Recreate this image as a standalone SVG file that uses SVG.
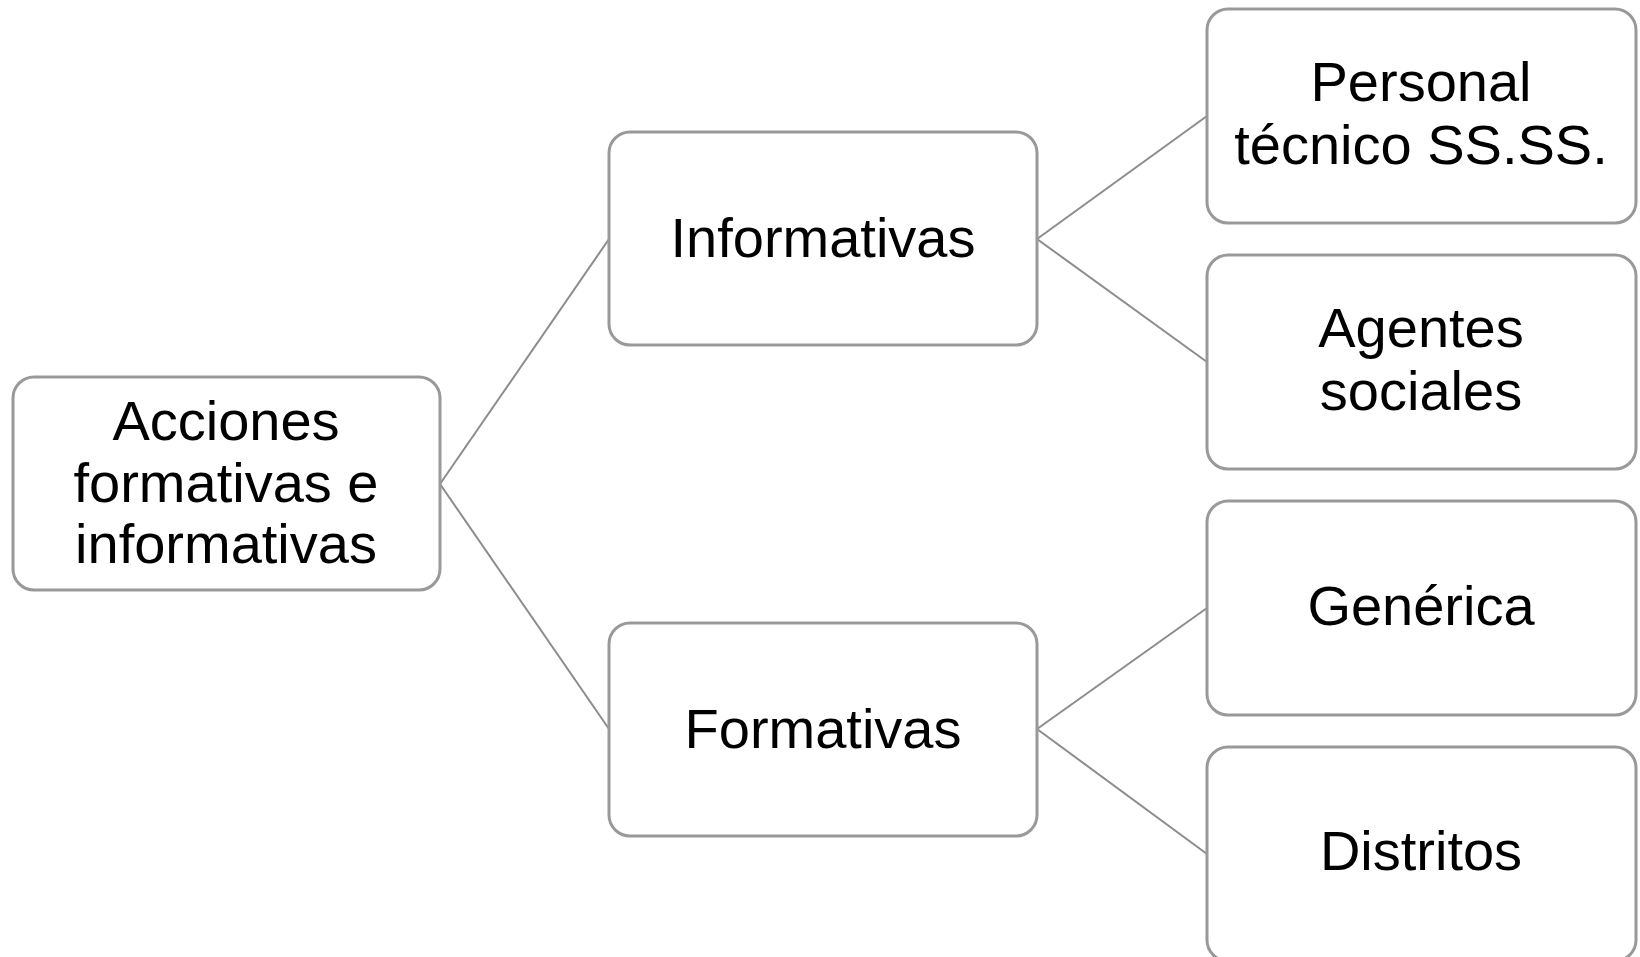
<svg xmlns="http://www.w3.org/2000/svg" width="1640" height="957" viewBox="0 0 1640 957">
<style>
.box{fill:#fff;stroke:#999;stroke-width:3}
.lbl{font-family:"Liberation Sans",Arial,sans-serif;font-size:56px;fill:#000;text-anchor:middle}
.con{stroke:#8c8c8c;stroke-width:2;fill:none}
</style>
<rect width="1640" height="957" fill="#fff"/>
<g id="connectors">
<line class="con" x1="440" y1="484" x2="609" y2="239"/>
<line class="con" x1="440" y1="484" x2="609" y2="729"/>
<line class="con" x1="1037" y1="239" x2="1207" y2="116"/>
<line class="con" x1="1037" y1="239" x2="1207" y2="362"/>
<line class="con" x1="1037" y1="729" x2="1207" y2="608"/>
<line class="con" x1="1037" y1="729" x2="1207" y2="854"/>
</g>
<g id="root">
<rect class="box" x="13" y="377" width="427" height="213" rx="21"/>
<text class="lbl" x="226" y="440">Acciones</text>
<text class="lbl" x="226" y="502">formativas e</text>
<text class="lbl" x="226" y="563">informativas</text>
</g>
<g id="informativas">
<rect class="box" x="609" y="132" width="428" height="213" rx="21"/>
<text class="lbl" x="823" y="257">Informativas</text>
</g>
<g id="formativas">
<rect class="box" x="609" y="623" width="428" height="213" rx="21"/>
<text class="lbl" x="823" y="748">Formativas</text>
</g>
<g id="personal">
<rect class="box" x="1207" y="9" width="429" height="214" rx="21"/>
<text class="lbl" x="1421" y="101">Personal</text>
<text class="lbl" x="1421" y="164">técnico SS.SS.</text>
</g>
<g id="agentes">
<rect class="box" x="1207" y="255" width="429" height="214" rx="21"/>
<text class="lbl" x="1421" y="347">Agentes</text>
<text class="lbl" x="1421" y="410">sociales</text>
</g>
<g id="generica">
<rect class="box" x="1207" y="501" width="429" height="214" rx="21"/>
<text class="lbl" x="1421" y="625">Genérica</text>
</g>
<g id="distritos">
<rect class="box" x="1207" y="747" width="429" height="214" rx="21"/>
<text class="lbl" x="1421" y="870">Distritos</text>
</g>
</svg>
